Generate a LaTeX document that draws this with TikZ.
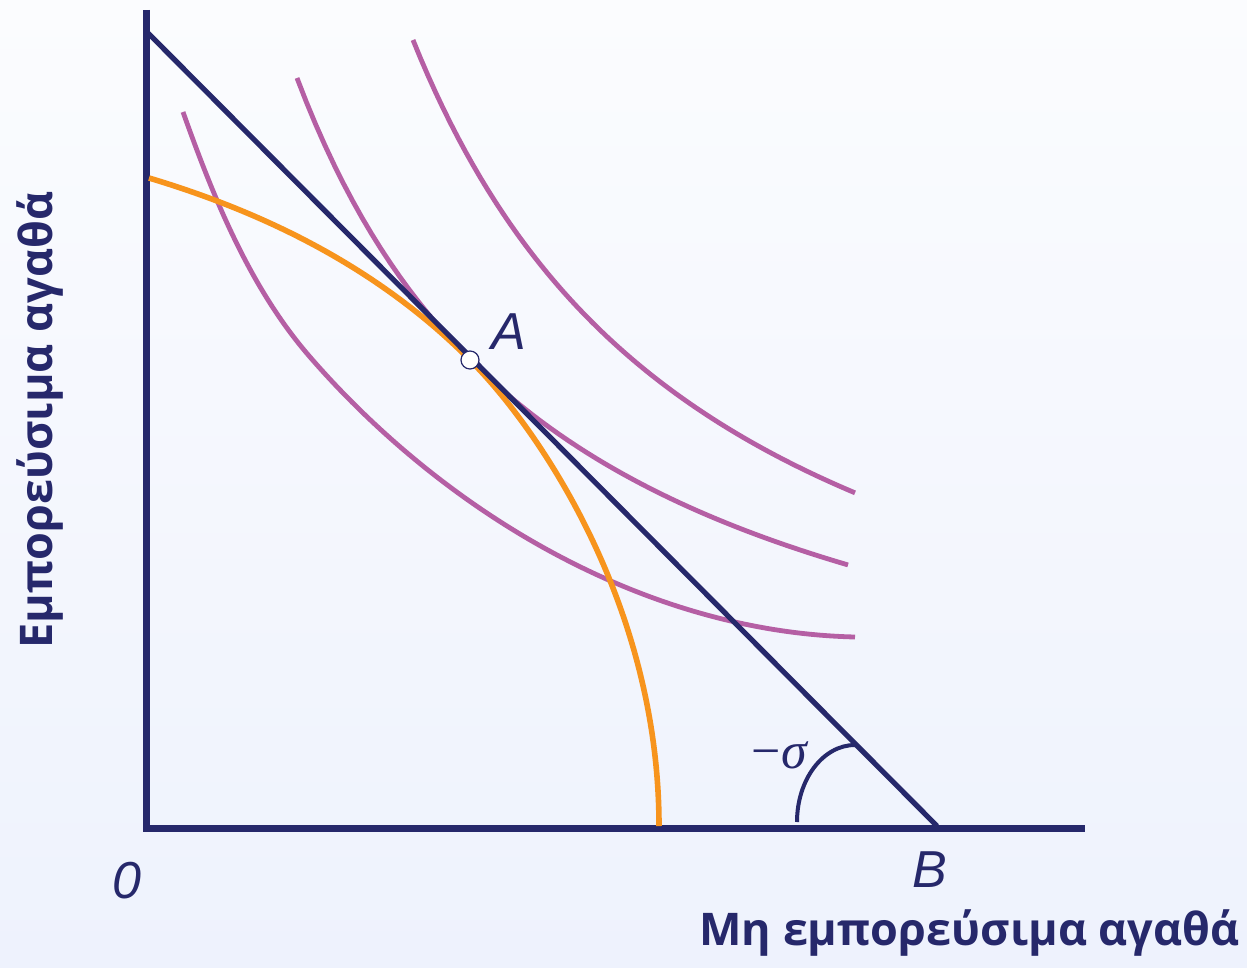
\documentclass[tikz,border=0pt]{standalone}
\usepackage{fontspec}
\setmainfont{Liberation Sans}
\newfontfamily\labelfont{Open Sans}
\newfontfamily\sigmafont{Liberation Serif}
\usepackage{tikz}
\usetikzlibrary{positioning}
\definecolor{GInk}{HTML}{26286B}
\definecolor{GOrange}{HTML}{F7941D}
\definecolor{GPurple}{HTML}{B55FA4}
\definecolor{GTop}{HTML}{FBFCFE}
\definecolor{GBottom}{HTML}{EEF2FD}

\begin{document}
\begin{tikzpicture}[
  x=0.5pt, y=-0.5pt,
  axis/.style={draw=GInk, line width=3.5pt},
  budget/.style={draw=GInk, line width=2.6pt},
  ppf/.style={draw=GOrange, line width=2.8pt},
  indiff/.style={draw=GPurple, line width=2.4pt},
  anglearc/.style={draw=GInk, line width=2pt},
  dot/.style={circle, draw=GInk, line width=0.6pt, fill=white,
              inner sep=0pt, minimum size=9pt},
  lbl/.style={text=GInk, inner sep=0pt,
              font=\itshape\fontsize{26}{26}\selectfont},
  axlbl/.style={text=GInk, inner sep=0pt,
                font=\labelfont\bfseries\fontsize{22.5}{22.5}\selectfont},
]

% ── background ───────────────────────────────────────────────────────────
\shade[top color=GTop, bottom color=GBottom] (0,0) rectangle (1247,968);
\useasboundingbox (0,0) rectangle (1247,968);

% ── axes ─────────────────────────────────────────────────────────────────
\coordinate (O)    at (146,828);
\coordinate (ytop) at (146,10);
\coordinate (xend) at (1085,828);
\draw[axis] (ytop) -- (O) -- (xend);

% ── indifference curves ──────────────────────────────────────────────────
\draw[indiff] (183,112) .. controls (214,199) and (250,288) .. (310,357)
  .. controls (441,508) and (640,632) .. (855,637);
\draw[indiff] plot[domain=297:848, samples=60]
  (\x, {807.6 - 2003.46/((\x - 22.4)/100)});
\draw[indiff] plot[domain=413:855, samples=60]
  (\x, {809.88 - 2382.32/((\x - 103.56)/100)});

% ── price line and tangency point ────────────────────────────────────────
\coordinate (Y0) at (148,33);
\coordinate (B0) at (937,826);
\coordinate (Apt) at (470,360);

% production possibility frontier, tangent to the price line at A
\draw[ppf] (149,178) .. controls (259,211) and (375,264.5) .. (Apt)
  .. controls (540,430) and (659,606) .. (659,826);

\draw[budget] (Y0) -- (B0);

\node[dot] (A) at (Apt) {};
\node[lbl, above right=1.5pt and 7pt of A] (Alab) {A};

% ── slope angle ──────────────────────────────────────────────────────────
\coordinate (arcstart) at (797,822);
\draw[anglearc] (arcstart) arc[start angle=180, end angle=270,
  x radius=58, y radius=77];
\node[text=GInk, inner sep=0pt, font=\sigmafont\fontsize{26}{26}\selectfont]
  (sig) at (780,755) {−\textit{σ}};

% ── labels ───────────────────────────────────────────────────────────────
\node[lbl] (Blab) at (930,870) {B};
\node[lbl] (Olab) at (127,881) {0};

\node[axlbl, anchor=base east] (xlab) at (1240,945) {Μη εμπορεύσιμα αγαθά};
\node[axlbl, rotate=90] (ylab) at (40,420) {Εμπορεύσιμα αγαθά};

\end{tikzpicture}
\end{document}
